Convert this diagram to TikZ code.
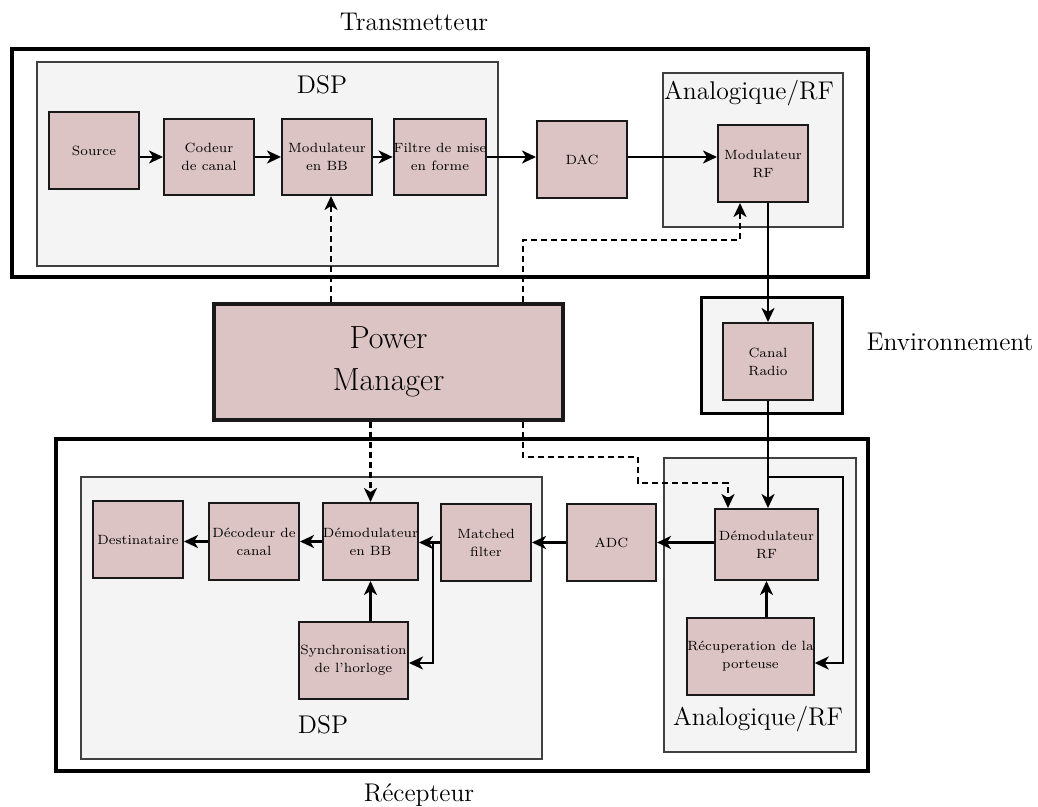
\documentclass[tikz,border=0pt]{standalone}
\usetikzlibrary{arrows.meta}
\definecolor{blkfill}{HTML}{DCC4C4}
\definecolor{grpfill}{HTML}{F4F4F4}
\tikzset{
  blk/.style={draw=black!90, fill=blkfill, line width=1pt, align=center, inner sep=0pt,
    font=\fontsize{6.7}{9}\selectfont},
  grp/.style={draw=black!75, fill=grpfill, line width=0.75pt},
  outerbox/.style={draw=black, line width=2.2pt},
  lbl/.style={font=\fontsize{12.8}{15}\selectfont, inner sep=0pt},
  conn/.style={line width=1.35pt, -{Stealth[length=7pt,width=6.5pt,inset=2pt]}},
  ctl/.style={conn, dash pattern=on 3pt off 2pt},
}
\newcommand\blk[6]{\node[blk, minimum width=#4*0.5pt, minimum height=#5*0.5pt] (#1) at (#2,#3) {#6};}
\begin{document}
\begin{tikzpicture}[x=0.5pt,y=-0.5pt]
\useasboundingbox (0,0) rectangle (1038,807);
\fill[white] (0,0) rectangle (1038,807);
% containers
\draw[outerbox] (12,49) rectangle (868,277);
\draw[outerbox] (56,439) rectangle (868,771);
\draw[grp] (37,62) rectangle (498,266);
\draw[grp] (663,73) rectangle (843,227);
\draw[grp, draw=black, line width=1.5pt] (701,298) rectangle (842,413);
\draw[grp] (81,477) rectangle (542,759);
\draw[grp] (664,458) rectangle (856,752);
% labels
\node[lbl] (ttx) at (414,22) {Transmetteur};
\node[lbl] (trx) at (419,795) {Récepteur};
\node[lbl] (tenv) at (950,342) {Environnement};
\node[lbl] (tdsp1) at (322,85) {DSP};
\node[lbl] (tdsp2) at (323,725) {DSP};
\node[lbl] (tan1) at (749,93) {Analogique/RF};
\node[lbl] (tan2) at (758,719) {Analogique/RF};
% blocks
\blk{src}{94}{150.5}{90}{77}{Source}
\blk{cod}{209}{157}{90}{76}{Codeur\\de canal}
\blk{modbb}{327}{157}{90}{76}{Modulateur\\en BB}
\blk{filt}{440}{157}{90}{76}{Filtre de mise\\en forme}
\blk{dac}{582}{159.5}{90}{77}{DAC}
\blk{modrf}{763}{163.5}{90}{77}{Modulateur\\RF}
\blk{canal}{768}{361.5}{90}{77}{Canal\\Radio}
\blk{dest}{138}{539.5}{90}{77}{Destinataire}
\blk{dec}{254}{541.5}{90}{77}{Décodeur de\\canal}
\blk{dembb}{370.5}{541.5}{93}{77}{Démodulateur\\en BB}
\blk{mf}{486}{542.5}{90}{77}{Matched\\filter}
\blk{sync}{353.5}{660.5}{109}{77}{Synchronisation\\de l'horloge}
\blk{adc}{611.5}{542.5}{89}{77}{ADC}
\blk{demrf}{766.5}{544.5}{103}{71}{Démodulateur\\RF}
\blk{recup}{750.5}{656.5}{123}{77}{Récuperation de la\\porteuse}
\node[blk, line width=2.2pt, minimum width=174.5pt, minimum height=58pt,
  font=\fontsize{16}{21}\selectfont] (pm) at (388.5,362) {Power\\Manager};
% helper coordinates
\coordinate (pa) at (331,0);
\coordinate (pb) at (523,0);
\coordinate (pc) at (740,240);
\coordinate (pd) at (638,457);
\coordinate (pe) at (728,483);
\coordinate (br1) at (768,477);
\coordinate (rc) at (843,663);
\coordinate (bb) at (433,542.5);
\coordinate (sb) at (433,663);
% transmitter chain
\draw[conn] (src.east |- cod.west) -- (cod.west);
\draw[conn] (cod) -- (modbb);
\draw[conn] (modbb) -- (filt);
\draw[conn] (filt.east) -- (filt.east -| dac.west);
\draw[conn] (dac.east |- filt.east) -- (modrf.west |- filt.east);
\draw[conn] (modrf.south -| canal.north) -- (canal.north);
\draw[conn] (canal.south) -- (canal.south |- demrf.north);
% receiver chain
\draw[conn] (br1) -| (rc) -- (rc -| recup.east);
\draw[conn] (recup.north -| demrf.south) -- (demrf.south);
\draw[conn] (demrf.west |- adc.east) -- (adc.east);
\draw[conn] (adc) -- (mf);
\draw[conn] (mf.west) -- (mf.west -| dembb.east);
\draw[conn] (bb) -- (sb) -- (sb -| sync.east);
\draw[conn] (dembb) -- (dec);
\draw[conn] (dec.west) -- (dec.west -| dest.east);
\draw[conn] (sync.north -| dembb.south) -- (dembb.south);
% power manager control
\draw[ctl] (pm.north -| pa) -- (modbb.south -| pa);
\draw[ctl] (pm.north -| pb) |- (pc) -- (pc |- modrf.south);
\draw[ctl] (pm.south -| dembb.north) -- (dembb.north);
\draw[ctl] (pm.south -| pb) |- (pd) |- (pe) -- (pe |- demrf.north);
\end{tikzpicture}
\end{document}
